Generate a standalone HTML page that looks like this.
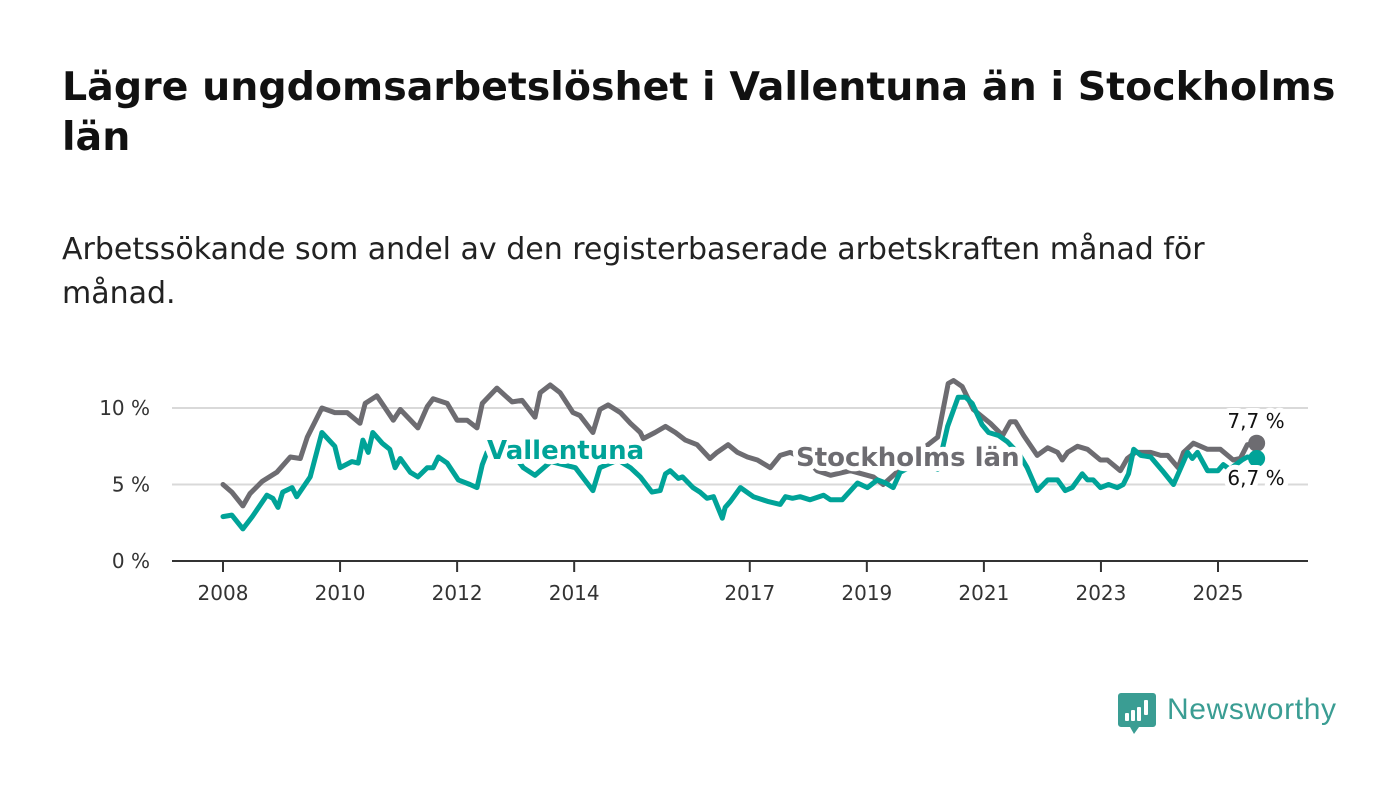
<!DOCTYPE html>
<html><head><meta charset="utf-8">
<style>
html,body{margin:0;padding:0;background:#fff;}
body{width:1400px;height:794px;position:relative;overflow:hidden;font-family:"DejaVu Sans","Liberation Sans",sans-serif;color:#111;}
#title{position:absolute;left:62px;top:62px;width:1330px;font-size:39.5px;font-weight:bold;line-height:50px;margin:0;white-space:nowrap;}
#subtitle{position:absolute;left:62px;top:228px;width:1300px;font-size:30px;line-height:44px;margin:0;color:#222;white-space:nowrap;}
svg{position:absolute;left:0;top:0;}
</style></head>
<body>
<h1 id="title">Lägre ungdomsarbetslöshet i Vallentuna än i Stockholms<br>län</h1>
<p id="subtitle">Arbetssökande som andel av den registerbaserade arbetskraften månad för<br>månad.</p>
<svg id="chart" width="1400" height="794"></svg>
<script>
const yTicks=[0,5,10];
const yTickLabels=["0 %","5 %","10 %"];
const xTicks=[2008,2010,2012,2014,2017,2019,2021,2023,2025];
const sthlmDates=[2008.0,2008.15,2008.34,2008.46,2008.67,2008.92,2009.15,2009.32,2009.44,2009.69,2009.91,2010.12,2010.34,2010.43,2010.63,2010.91,2011.03,2011.33,2011.49,2011.59,2011.83,2012.0,2012.17,2012.34,2012.43,2012.68,2012.94,2013.11,2013.33,2013.42,2013.59,2013.76,2013.98,2014.1,2014.32,2014.44,2014.58,2014.79,2014.96,2015.13,2015.18,2015.38,2015.56,2015.73,2015.9,2016.1,2016.32,2016.44,2016.63,2016.79,2016.96,2017.13,2017.35,2017.52,2017.69,2017.86,2018.03,2018.15,2018.38,2018.72,2019.11,2019.28,2019.57,2019.91,2020.21,2020.39,2020.48,2020.63,2020.82,2021.11,2021.32,2021.45,2021.54,2021.68,2021.91,2022.09,2022.26,2022.34,2022.43,2022.6,2022.77,2022.99,2023.11,2023.33,2023.45,2023.59,2023.85,2024.02,2024.14,2024.32,2024.41,2024.58,2024.82,2025.04,2025.26,2025.38,2025.5,2025.66];
const sthlmValues=[5.0,4.5,3.6,4.4,5.2,5.8,6.8,6.7,8.1,10.0,9.7,9.7,9.0,10.3,10.8,9.2,9.9,8.7,10.1,10.6,10.3,9.2,9.2,8.7,10.3,11.3,10.4,10.5,9.4,11.0,11.5,11.0,9.7,9.5,8.4,9.9,10.2,9.7,9.0,8.4,8.0,8.4,8.8,8.4,7.9,7.6,6.7,7.1,7.6,7.1,6.8,6.6,6.1,6.9,7.1,6.8,6.4,5.9,5.6,5.9,5.5,5.0,6.0,7.2,8.1,11.6,11.8,11.4,9.9,9.0,8.2,9.1,9.1,8.2,6.9,7.4,7.1,6.6,7.1,7.5,7.3,6.6,6.6,5.9,6.7,7.1,7.1,6.9,6.9,6.1,7.1,7.7,7.3,7.3,6.6,6.7,7.6,7.7];
const vallDates=[2008.0,2008.15,2008.34,2008.5,2008.75,2008.85,2008.94,2009.02,2009.18,2009.26,2009.49,2009.69,2009.91,2010.0,2010.2,2010.31,2010.39,2010.48,2010.56,2010.72,2010.85,2010.94,2011.03,2011.2,2011.33,2011.49,2011.59,2011.68,2011.83,2012.02,2012.22,2012.34,2012.43,2012.51,2012.73,2012.99,2013.13,2013.33,2013.6,2014.02,2014.32,2014.44,2014.75,2014.96,2015.13,2015.33,2015.47,2015.56,2015.64,2015.78,2015.85,2016.03,2016.15,2016.27,2016.38,2016.53,2016.58,2016.67,2016.84,2017.06,2017.3,2017.52,2017.61,2017.73,2017.86,2018.03,2018.26,2018.38,2018.58,2018.84,2019.01,2019.18,2019.32,2019.45,2019.57,2019.9,2020.21,2020.38,2020.56,2020.69,2020.8,2020.97,2021.08,2021.25,2021.4,2021.6,2021.74,2021.91,2022.09,2022.26,2022.39,2022.51,2022.68,2022.77,2022.87,2022.99,2023.13,2023.28,2023.38,2023.47,2023.56,2023.68,2023.85,2024.05,2024.24,2024.48,2024.56,2024.65,2024.82,2025.0,2025.09,2025.2,2025.41,2025.5,2025.66];
const vallValues=[2.9,3.0,2.1,2.9,4.3,4.1,3.5,4.5,4.8,4.2,5.5,8.4,7.5,6.1,6.5,6.4,7.9,7.1,8.4,7.7,7.3,6.1,6.7,5.8,5.5,6.1,6.1,6.8,6.4,5.3,5.0,4.8,6.3,7.1,7.3,6.8,6.1,5.6,6.5,6.1,4.6,6.1,6.6,6.1,5.5,4.5,4.6,5.7,5.9,5.4,5.5,4.8,4.5,4.1,4.2,2.8,3.5,3.9,4.8,4.2,3.9,3.7,4.2,4.1,4.2,4.0,4.3,4.0,4.0,5.1,4.8,5.3,5.1,4.8,5.8,6.5,6.0,8.8,10.7,10.7,10.3,8.9,8.4,8.2,7.8,7.0,6.1,4.6,5.3,5.3,4.6,4.8,5.7,5.3,5.3,4.8,5.0,4.8,5.0,5.7,7.3,6.9,6.8,5.9,5.0,7.1,6.7,7.1,5.9,5.9,6.3,6.0,6.6,6.8,6.7];

const NS='http://www.w3.org/2000/svg';
const svg=document.getElementById('chart');
const X0=172,X1=1308;
const xs=y=>223+(y-2008)*58.53;
const ys=v=>561-v*15.3;
const TEAL='#00a398',GRAY='#6d6c71';
function mk(tag,attrs,parent){const e=document.createElementNS(NS,tag);for(const k in attrs)e.setAttribute(k,attrs[k]);(parent||svg).appendChild(e);return e;}

yTicks.forEach((t,i)=>{
  if(t>0){const g=mk('line',{x1:X0,x2:X1,y1:ys(t),y2:ys(t),stroke:'#d9d9d9','stroke-width':2});
  
  }
  const l=mk('text',{x:150,y:ys(t)+7,'text-anchor':'end','font-size':20,fill:'#333'});
  l.textContent=yTickLabels[i];
  
  
});
xTicks.forEach(t=>{
  const tk=mk('line',{x1:xs(t),x2:xs(t),y1:561,y2:572,stroke:'#333','stroke-width':2});
  
  
  const l=mk('text',{x:xs(t),y:600,'text-anchor':'middle','font-size':20,fill:'#333'});
  l.textContent=String(t);
  
  
});
const ax=mk('line',{x1:X0,x2:X1,y1:561,y2:561,stroke:'#333','stroke-width':2});



function line(d,v,c,name){
  const p=mk('path',{d:d.map((t,i)=>(i?'L':'M')+xs(t).toFixed(1)+','+ys(v[i]).toFixed(1)).join(''),fill:'none',stroke:c,'stroke-width':5,'stroke-linejoin':'round','stroke-linecap':'round'});
  
  
  const n=d.length-1;
  const dot=mk('circle',{cx:xs(d[n]),cy:ys(v[n]),r:8.5,fill:c});
  
  
}
line(sthlmDates,sthlmValues,GRAY,'stockholms-lan-line');
line(vallDates,vallValues,TEAL,'vallentuna-line');

function label(txt,x,y,c,size,weight,name,anchor){
  const t=mk('text',{x:x,y:y,'font-size':size,'font-weight':weight,fill:c,stroke:'#fff','stroke-width':10,'stroke-linejoin':'round','paint-order':'stroke','text-anchor':anchor||'start'});
  t.textContent=txt;
  
  
}
label('Vallentuna',487,459,TEAL,26,'bold','vallentuna-label');
label('Stockholms län',796,466,GRAY,26,'bold','stockholms-lan-label');
const nS=sthlmValues.length-1,nV=vallValues.length-1;
label(sthlmValues[nS].toFixed(1).replace('.',',')+' %',1256,428,'#111',20,'normal','stockholms-lan-value','middle');
label(vallValues[nV].toFixed(1).replace('.',',')+' %',1256,485,'#111',20,'normal','vallentuna-value','middle');

const lg=mk('g',{});


mk('path',{d:'M1121,693 h32 a3,3 0 0 1 3,3 v28 a3,3 0 0 1 -3,3 h-14 l-5,7 l-4,-7 h-9 a3,3 0 0 1 -3,-3 v-28 a3,3 0 0 1 3,-3z',fill:'#3a9d93'},lg);
[[1125,713,4,8],[1131,710,4,11],[1137,707,4,14],[1144,700,4,15]].forEach(r=>mk('rect',{x:r[0],y:r[1],width:r[2],height:r[3],fill:'#fff',rx:1},lg));
mk('rect',{x:1144,y:716,width:4,height:4,fill:'#3a9d93'},lg);
const lt=mk('text',{x:1167,y:719,'font-size':30,'font-family':'Liberation Sans, sans-serif',fill:'#3a9d93',textLength:169},lg);
lt.textContent='Newsworthy';
</script>
</body></html>
